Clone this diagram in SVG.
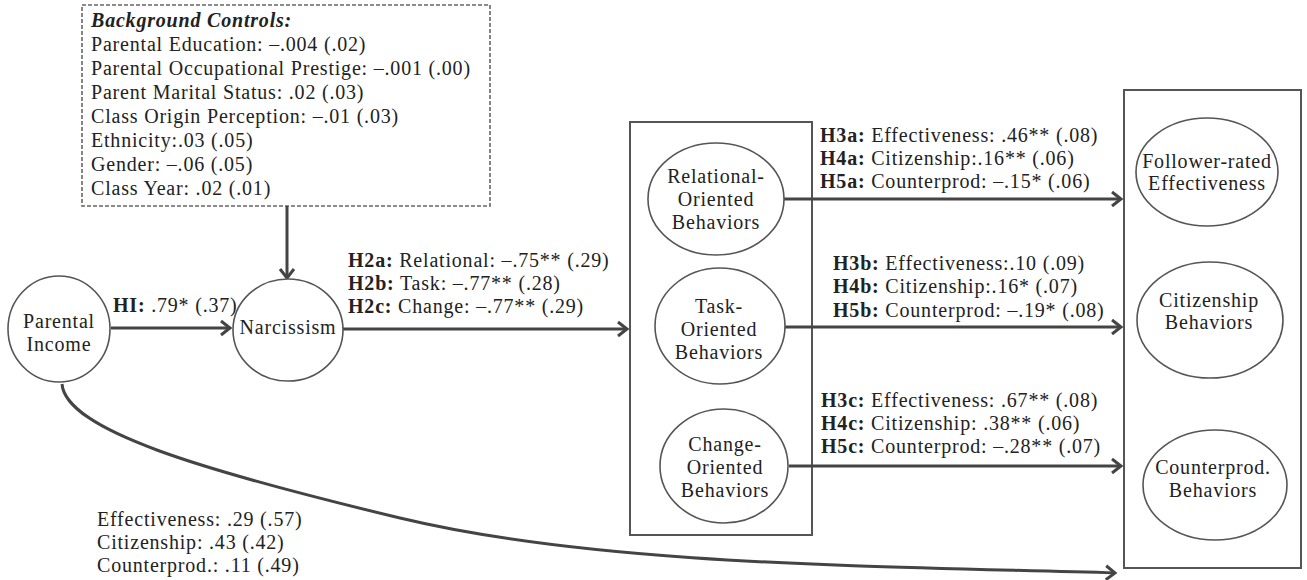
<svg xmlns="http://www.w3.org/2000/svg" width="1307" height="580" viewBox="0 0 1307 580">
<style>
text{font-family:"Liberation Serif","Times New Roman",serif;font-size:20px;letter-spacing:0.8px;fill:#222}
.c{text-anchor:middle}
.b{font-weight:bold}
.node{fill:#fff;stroke:#555;stroke-width:1.6}
.box{fill:none;stroke:#555;stroke-width:2}
.edge{fill:none;stroke:#444;stroke-width:3}
</style>
<defs>
<marker id="ah" markerUnits="userSpaceOnUse" markerWidth="20" markerHeight="20" refX="12" refY="10" orient="auto">
<path d="M3,3 L12,10 L3,17" fill="none" stroke="#444" stroke-width="3"/>
</marker>
</defs>
<rect width="1307" height="580" fill="#fff"/>

<g id="background-controls">
<rect x="82" y="5" width="408" height="201" fill="#fff" stroke="#666" stroke-width="1.6" stroke-dasharray="4,2"/>
<text x="91" y="27" font-weight="bold" font-style="italic">Background Controls:</text>
<text x="91" y="51">Parental Education: –.004 (.02)</text>
<text x="91" y="75">Parental Occupational Prestige: –.001 (.00)</text>
<text x="91" y="99">Parent Marital Status: .02 (.03)</text>
<text x="91" y="123">Class Origin Perception: –.01 (.03)</text>
<text x="91" y="147">Ethnicity:.03 (.05)</text>
<text x="91" y="171">Gender: –.06 (.05)</text>
<text x="91" y="195">Class Year: .02 (.01)</text>
</g>

<g id="mediator-box"><rect class="box" x="630" y="122" width="182" height="413"/></g>
<g id="outcome-box"><rect class="box" x="1124" y="90" width="177" height="478"/></g>

<g id="connectors">
<path class="edge" d="M287,206 L287,278" marker-end="url(#ah)"/>
<path class="edge" d="M111,328 L230,328" marker-end="url(#ah)"/>
<path class="edge" d="M343,329 L627,329" marker-end="url(#ah)"/>
<path class="edge" d="M784,199 L1121,199" marker-end="url(#ah)"/>
<path class="edge" d="M785,327 L1121,327" marker-end="url(#ah)"/>
<path class="edge" d="M789,466 L1121,466" marker-end="url(#ah)"/>
<path class="edge" d="M62,384 C66,430 200,470 400,518 S880,566 1115,573" stroke-width="2.5" marker-end="url(#ah)"/>
</g>

<g id="parental-income">
<ellipse class="node" cx="59" cy="329" rx="51" ry="53"/>
<text class="c" x="59" y="328">Parental</text>
<text class="c" x="59" y="351">Income</text>
</g>
<g id="narcissism">
<ellipse class="node" cx="288" cy="330" rx="55" ry="51"/>
<text class="c" x="288" y="334">Narcissism</text>
</g>
<g id="relational">
<ellipse class="node" cx="716" cy="199" rx="68" ry="56"/>
<text class="c" x="716" y="183">Relational-</text>
<text class="c" x="716" y="206">Oriented</text>
<text class="c" x="716" y="229">Behaviors</text>
</g>
<g id="task">
<ellipse class="node" cx="720" cy="326" rx="65" ry="58"/>
<text class="c" x="719" y="313">Task-</text>
<text class="c" x="719" y="336">Oriented</text>
<text class="c" x="719" y="359">Behaviors</text>
</g>
<g id="change">
<ellipse class="node" cx="724" cy="466" rx="64" ry="57"/>
<text class="c" x="725" y="451">Change-</text>
<text class="c" x="725" y="474">Oriented</text>
<text class="c" x="725" y="497">Behaviors</text>
</g>
<g id="effectiveness">
<ellipse class="node" cx="1207" cy="172" rx="71" ry="54"/>
<text class="c" x="1207" y="168">Follower-rated</text>
<text class="c" x="1207" y="190">Effectiveness</text>
</g>
<g id="citizenship">
<ellipse class="node" cx="1210" cy="320" rx="73" ry="58"/>
<text class="c" x="1209" y="307">Citizenship</text>
<text class="c" x="1209" y="329">Behaviors</text>
</g>
<g id="counterprod">
<ellipse class="node" cx="1215" cy="485" rx="72" ry="55"/>
<text class="c" x="1213" y="474">Counterprod.</text>
<text class="c" x="1213" y="497">Behaviors</text>
</g>

<g id="labels">
<text x="113" y="312"><tspan class="b">HI:</tspan> .79* (.37)</text>
<text x="348" y="267"><tspan class="b">H2a:</tspan> Relational: –.75** (.29)</text>
<text x="348" y="290"><tspan class="b">H2b:</tspan> Task: –.77** (.28)</text>
<text x="348" y="313"><tspan class="b">H2c:</tspan> Change: –.77** (.29)</text>
<text x="820" y="142"><tspan class="b">H3a:</tspan> Effectiveness: .46** (.08)</text>
<text x="820" y="165"><tspan class="b">H4a:</tspan> Citizenship:.16** (.06)</text>
<text x="820" y="188"><tspan class="b">H5a:</tspan> Counterprod: –.15* (.06)</text>
<text x="833" y="270"><tspan class="b">H3b:</tspan> Effectiveness:.10 (.09)</text>
<text x="833" y="293"><tspan class="b">H4b:</tspan> Citizenship:.16* (.07)</text>
<text x="833" y="317"><tspan class="b">H5b:</tspan> Counterprod: –.19* (.08)</text>
<text x="821" y="407"><tspan class="b">H3c:</tspan> Effectiveness: .67** (.08)</text>
<text x="821" y="430"><tspan class="b">H4c:</tspan> Citizenship: .38** (.06)</text>
<text x="821" y="453"><tspan class="b">H5c:</tspan> Counterprod: –.28** (.07)</text>
<text x="97" y="526">Effectiveness: .29 (.57)</text>
<text x="97" y="549">Citizenship: .43 (.42)</text>
<text x="97" y="572">Counterprod.: .11 (.49)</text>
</g>
</svg>
